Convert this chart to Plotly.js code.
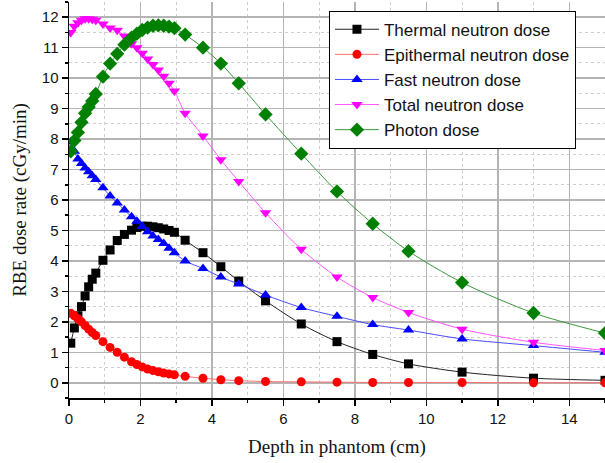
<!DOCTYPE html>
<html>
<head>
<meta charset="utf-8">
<script src="https://cdn.plot.ly/plotly-3.0.1.min.js"></script>
<style>html,body{margin:0;padding:0;background:#fff;}#chart{width:605px;height:463px;}</style>
</head>
<body>
<div id="chart"></div>
<script>
// Depth in phantom (cm)
const depth = [0.05,0.15,0.25,0.35,0.45,0.55,0.65,0.75,0.95,1.15,1.35,1.55,1.75,1.9,2.05,2.2,2.35,2.5,2.65,2.8,2.95,3.25,3.75,4.25,4.75,5.5,6.5,7.5,8.5,9.5,11,13,15];
// RBE dose rates (cGy/min)
const thermal = [1.3,1.8,2.2,2.5,2.85,3.15,3.4,3.6,4.02,4.36,4.67,4.87,5.01,5.1,5.14,5.14,5.12,5.09,5.05,5.0,4.94,4.68,4.27,3.81,3.34,2.69,1.93,1.35,0.93,0.62,0.35,0.15,0.08];
const epithermal = [2.28,2.2,2.1,2.0,1.88,1.76,1.65,1.55,1.35,1.16,1.0,0.84,0.69,0.6,0.52,0.45,0.4,0.36,0.32,0.29,0.26,0.21,0.15,0.10,0.07,0.04,0.03,0.02,0.01,0.01,0.01,0.0,0.0];
const fast = [7.9,7.6,7.35,7.2,7.05,6.93,6.8,6.67,6.4,6.13,5.9,5.67,5.45,5.3,5.13,4.96,4.82,4.7,4.57,4.42,4.27,4.0,3.75,3.47,3.24,2.88,2.47,2.18,1.91,1.73,1.44,1.22,1.0];
const total = [11.5,11.7,11.82,11.9,11.95,11.95,11.93,11.9,11.78,11.65,11.57,11.38,11.13,11.0,10.82,10.63,10.45,10.27,10.06,9.83,9.58,8.85,8.1,7.32,6.61,5.58,4.38,3.47,2.8,2.31,1.76,1.33,1.06];
const photon = [7.6,7.95,8.22,8.55,8.85,9.05,9.25,9.48,10.05,10.48,10.8,11.1,11.33,11.46,11.58,11.66,11.72,11.73,11.72,11.69,11.64,11.43,11.0,10.48,9.83,8.81,7.52,6.28,5.22,4.32,3.29,2.29,1.63];

const seriesNames = ["Thermal neutron dose","Epithermal neutron dose","Fast neutron dose","Total neutron dose","Photon dose"];
const seriesData = [thermal, epithermal, fast, total, photon];
const markerColors = ["#000000","#ff0000","#0000ff","#ff00ff","#008000"];
const lineColors = ["#222222","#ff7070","#4a4aff","#ff55ff","#3c9a3c"];
const symbols = ["square","circle","triangle-up","triangle-down","diamond"];
const sizes = [9,9,10,10,11];

const traces = seriesData.map((ys, i) => ({
  x: depth, y: ys, name: seriesNames[i], type: "scatter", mode: "lines+markers",
  line: {color: lineColors[i], width: 1, shape: "spline", smoothing: 0.8},
  marker: {color: markerColors[i], symbol: symbols[i], size: sizes[i], line: {width: 0}}
}));

const axisCommon = {
  showline: true, linecolor: "#000", linewidth: 1.5, mirror: false,
  ticks: "outside", ticklen: 6, tickwidth: 1.5, tickcolor: "#000",
  showgrid: true, gridcolor: "#b4b4b4", gridwidth: 1.5, zeroline: false,
  tickfont: {family: "Liberation Sans, Arial, sans-serif", size: 15, color: "#111"}
};

const layout = {
  width: 605, height: 463,
  margin: {l: 69, r: 0, t: 2, b: 65},
  paper_bgcolor: "#fff", plot_bgcolor: "#fff",
  showlegend: true,
  xaxis: Object.assign({}, axisCommon, {
    range: [0, 15], tick0: 0, dtick: 2,
    minor: {dtick: 1, ticks: "outside", ticklen: 3, tickwidth: 1.5, tickcolor: "#000", showgrid: true, gridcolor: "#cfcfcf", griddash: "dot", gridwidth: 1},
    title: {text: "Depth in phantom (cm)", font: {family: "Liberation Serif, Times New Roman, serif", size: 19, color: "#111"}, standoff: 14}
  }),
  yaxis: Object.assign({}, axisCommon, {
    range: [-0.5, 12.5], tick0: 0, dtick: 1,
    minor: {dtick: 0.5, ticks: "outside", ticklen: 3, tickwidth: 1.5, tickcolor: "#000", showgrid: true, gridcolor: "#cfcfcf", griddash: "dot", gridwidth: 1},
    title: {text: "RBE dose rate (cGy/min)", font: {family: "Liberation Serif, Times New Roman, serif", size: 19, color: "#111"}, standoff: 10}
  }),
  legend: {
    x: 0.485, xanchor: "left", y: 0.978, yanchor: "top",
    bgcolor: "#fff", bordercolor: "#000", borderwidth: 1,
    font: {family: "Liberation Sans, Arial, sans-serif", size: 17, color: "#111"},
    itemwidth: 44, traceorder: "normal"
  }
};

Plotly.newPlot("chart", traces, layout, {staticPlot: true, displayModeBar: false});
</script>
</body>
</html>
